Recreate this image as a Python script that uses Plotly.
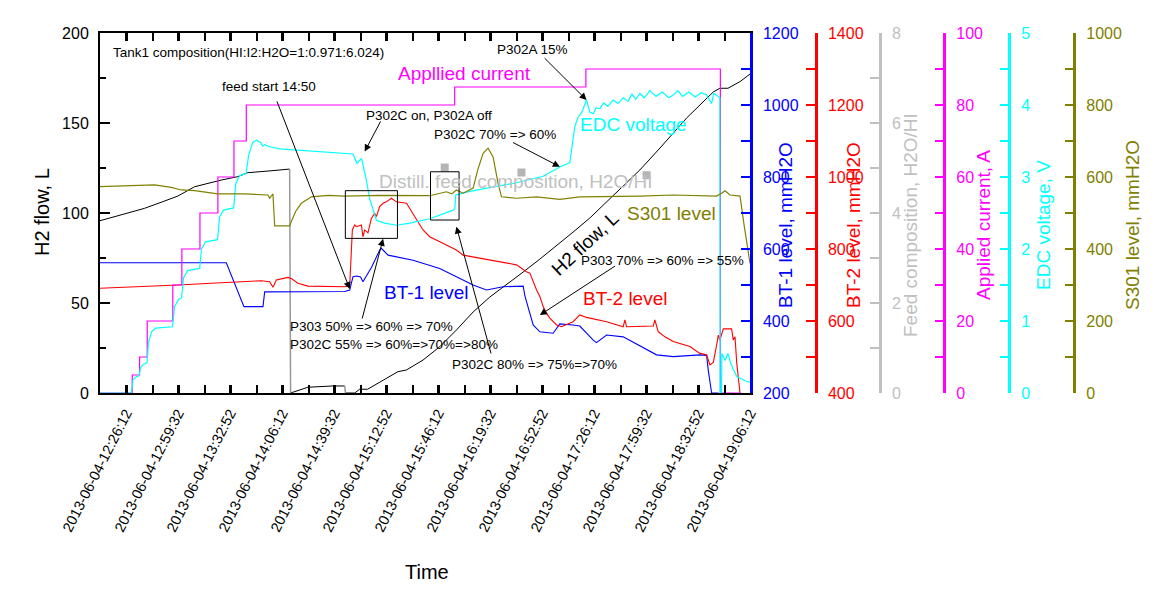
import pandas as pd
import plotly.graph_objects as go

BASE = pd.Timestamp("2013-06-04 12:00:00")

# ---------------- data (time = minutes after 12:00) ----------------
t_current = [9.5, 30.2, 34.9, 39.8, 56.2, 62.0, 73.6, 85.1, 95.4, 103.3, 236.9, 321.0, 407.2, 420.4]
current_A = [0, 5, 10, 20, 30, 40, 50, 60, 70, 80, 85, 90, 0, 0]

t_edc = [9.5, 29.7, 30.7, 32.3, 34.6, 35.5, 37.4, 39.7, 40.6, 42.6, 45.1, 56.0, 57.3, 59.9, 61.8, 63.1,
         65.7, 73.4, 74.6, 77.2, 84.9, 86.2, 88.8, 95.2, 96.5, 99.0, 103.2, 104.8, 107.4, 109.9, 112.5,
         113.8, 115.1, 118.3, 124.7, 137.5, 150.3, 166.4, 171.7, 174.3, 177.1, 179.9, 182.4, 186.7, 192.0,
         199.5, 208.1, 220.9, 235.9, 237.0, 237.6, 246.6, 259.4, 276.5, 293.6, 304.3, 310.7, 313.9, 316.0,
         318.4, 321.4, 323.5, 325.7, 327.5, 330.0, 332.5, 335.0, 338.5, 341.5, 345.0, 348.0, 350.5, 353.0,
         355.6, 358.5, 362.0, 366.0, 370.0, 374.0, 377.0, 380.0, 383.0, 387.0, 391.0, 395.0, 398.4, 401.5,
         403.0, 405.7, 406.9, 407.1, 407.9, 408.2, 410.2, 412.1, 414.0, 417.7, 424.1, 426.2]
edc_V = [0, 0, 0.18, 0.22, 0.24, 0.35, 0.40, 0.42, 0.70, 0.85, 0.90, 0.92, 1.20, 1.30, 1.32, 1.60,
         1.70, 1.73, 2.00, 2.10, 2.13, 2.45, 2.54, 2.57, 2.90, 3.02, 3.05, 3.30, 3.48, 3.51, 3.48,
         3.43, 3.45, 3.42, 3.39, 3.37, 3.35, 3.33, 3.32, 3.19, 3.26, 3.00, 2.70, 2.40, 2.36,
         2.33, 2.36, 2.42, 2.54, 2.56, 2.75, 2.80, 2.85, 2.92, 3.01, 3.14, 3.20, 3.70, 3.83,
         3.90, 4.07, 3.90, 3.88, 3.96, 3.95, 4.03, 3.98, 4.07, 4.02, 4.10, 4.05, 4.15, 4.08,
         4.16, 4.10, 4.20, 4.12, 4.18, 4.10, 4.14, 4.20, 4.12, 4.18, 4.11, 4.17, 4.14, 4.02,
         4.16, 4.12, 4.10, 0, 0, 0.55, 0.45, 0.55, 0.40, 0.23, 0.16, 0.15]

t_h2 = [9.5, 38.1, 49.8, 59.4, 70.2, 78.7, 87.3, 97.9, 104.3, 117.2, 131.1, 131.7, 142.8, 158.7, 166.4,
        166.9, 172.8, 176.0, 181.1, 200.4, 206.0, 216.6, 227.3, 238.0, 248.7, 259.4, 270.1, 280.8, 291.5,
        302.2, 312.8, 323.5, 334.3, 344.7, 355.6, 368.5, 385.6, 402.6, 406.9, 412.1, 419.8, 426.2]
h2_L = [95.7, 102.6, 106.3, 109.4, 114.6, 116.5, 118.3, 120.2, 122.4, 123.3, 124.4, 0, 3.2, 3.9, 3.9,
        0, 0, 2.1, 2.1, 11.8, 12.8, 18.3, 25.7, 35.0, 45.0, 53.3, 60.0, 67.2, 74.4,
        81.7, 89.4, 97.2, 106.1, 115.0, 123.9, 136.1, 152.8, 167.2, 169.3, 169.3, 173.0, 177.2]

t_s301 = [9.5, 28.5, 44.5, 55.2, 61.6, 70.2, 85.1, 102.2, 117.2, 118.3, 120.4, 121.5, 131.1, 133.0, 135.0,
          138.6, 145.0, 155.7, 166.4, 188.8, 220.9, 231.6, 235.0, 238.0, 242.3, 248.7, 251.7, 255.1, 258.3,
          261.5, 264.7, 266.9, 276.5, 289.4, 304.3, 317.1, 334.3, 355.6, 377.0, 394.1, 404.8, 408.0, 410.2,
          413.4, 419.8, 422.3, 426.2]
s301_mm = [573, 576, 578, 571, 564, 562, 553, 553, 550, 541, 553, 464, 464, 485, 505,
           527, 545, 549, 547, 549, 548, 559, 553, 564, 555, 569, 620, 666, 680,
           656, 583, 545, 541, 545, 538, 545, 545, 547, 550, 548, 547, 555, 562,
           550, 547, 470, 360]

t_bt1 = [9.5, 41.3, 72.3, 90.5, 101.8, 114.0, 115.1, 137.5, 166.4, 169.6, 171.7, 174.1, 176.6, 178.1,
         183.7, 188.8, 189.9, 194.2, 210.2, 227.3, 238.0, 248.7, 257.3, 267.9, 280.8, 281.9, 287.2, 291.5,
         300.0, 304.3, 312.8, 317.1, 325.7, 327.8, 334.3, 344.9, 366.3, 377.0, 394.1, 398.4, 399.4, 401.6, 405.9]
bt1_mm = [562, 562, 561, 562, 440, 440, 481, 481, 482, 486, 523, 525, 522, 509,
          550, 597, 602, 583, 569, 546, 523, 500, 486, 495, 497, 470, 389, 370,
          366, 392, 389, 386, 347, 340, 361, 356, 306, 301, 306, 304, 265, 200, 200]

t_bt2 = [9.5, 38.1, 59.4, 80.9, 95.8, 112.9, 118.3, 120.4, 122.6, 130.0, 132.2, 136.4, 142.8, 166.4, 169.6,
         171.3, 172.8, 173.9, 177.1, 178.1, 179.2, 181.3, 183.5, 185.6, 186.7, 188.8, 191.0, 193.1, 196.3,
         199.5, 206.0, 210.2, 216.6, 220.9, 229.4, 238.0, 242.3, 253.0, 263.7, 276.5, 282.9, 285.1, 289.4,
         291.5, 293.6, 295.8, 297.9, 302.2, 305.4, 312.8, 317.1, 321.4, 334.3, 344.9, 346.0, 347.1, 364.2,
         365.2, 367.4, 371.7, 377.0, 387.7, 394.1, 398.4, 400.5, 402.7, 404.8, 405.9, 406.9, 409.1, 414.4,
         415.5, 416.6, 417.7, 419.8]
bt2_mm = [691, 695, 700, 705, 709, 712, 709, 694, 714, 721, 718, 705, 697, 695, 698,
          853, 867, 862, 867, 834, 853, 845, 885, 899, 890, 918, 927, 931, 941,
          931, 927, 899, 853, 834, 816, 797, 783, 774, 765, 756, 737, 733, 686,
          668, 640, 621, 608, 589, 584, 598, 617, 610, 598, 584, 603, 584, 586,
          603, 570, 556, 543, 529, 510, 506, 478, 485, 533, 561, 547, 578, 578,
          547, 556, 483, 400]

t_feed = [230.5, 279.7, 359.9]
feed_ratio = [5.01, 4.90, 4.84]

# highlight boxes (time range, H2-axis range)
box_t0 = [166.8, 221.4]
box_t1 = [200.2, 239.7]
box_v0 = [85.9, 96.1]
box_v1 = [112.4, 122.9]

# small black notes: text, time, H2-axis value, anchor
note_text = ["Tank1 composition(HI:I2:H2O=1:0.971:6.024)", "feed start 14:50", "P302C on, P302A off",
             "P302C 70% => 60%", "P302A 15%", "P303 70% => 60% => 55%",
             "P303 50% => 60% => 70%<br>P302C 55% => 60%=>70%=>80%", "P302C 80% => 75%=>70%"]
note_t = [16.9, 117.6, 220.3, 262.6, 287.0, 370.1, 130.0, 287.8]
note_v = [189.4, 170.2, 154.4, 143.7, 190.6, 73.5, 31.7, 15.6]
note_anchor = ["left", "center", "center", "center", "center", "center", "left", "center"]

# arrows: head time, head value (H2 axis), tail offset in px
arrow_t = [169.6, 179.2, 304.3, 321.4, 291.5, 191.0, 238.0]
arrow_v = [57.8, 134.1, 125.7, 162.8, 43.3, 85.7, 92.4]
arrow_dx = [-73.3, 16.7, -48.3, -43.4, 76.7, -21.3, 35.0]
arrow_dy = [-189.0, -31.7, -25.0, -43.3, -50.0, 81.3, 128.3]

# coloured series labels
label_text = ["Appllied current", "EDC voltage", "Distill. feed composition, H2O/HI", "S301 level",
              "BT-2 level", "BT-1 level", "H2 flow, L"]
label_t = [242.9, 351.3, 275.9, 375.9, 346.0, 218.8, 320.4]
label_v = [177.6, 149.4, 117.4, 99.8, 52.6, 55.7, 83.2]
label_color = ["#ff00ff", "#00ffff", "#c0c0c0", "#808000", "#ff0000", "#0000ff", "#000000"]
label_angle = [0, 0, 0, 0, 0, 0, -43]

# ---------------- helpers ----------------
def ts(mins):
    return [BASE + pd.Timedelta(minutes=m) for m in mins]

def tstr(m):
    return str(BASE + pd.Timedelta(minutes=m))

FONT = "Liberation Sans, Arial, sans-serif"

fig = go.Figure()

# H2 flow: black, with gray vertical reset segments
blk_x, blk_y, gry_x, gry_y = [], [], [], []
tt = ts(t_h2)
for i in range(len(h2_L)):
    if i > 0 and h2_L[i - 1] - h2_L[i] > 2:
        blk_x.append(None); blk_y.append(None)
        gry_x += [tt[i - 1], tt[i], None]; gry_y += [h2_L[i - 1], h2_L[i], None]
    blk_x.append(tt[i]); blk_y.append(h2_L[i])

fig.add_trace(go.Scatter(x=ts(t_s301), y=s301_mm, yaxis="y7", mode="lines",
                         line=dict(color="#808000", width=1.2)))
fig.add_trace(go.Scatter(x=ts(t_current), y=current_A, yaxis="y5", mode="lines",
                         line=dict(color="#ff00ff", width=1.2, shape="hv")))
fig.add_trace(go.Scatter(x=ts(t_edc), y=edc_V, yaxis="y6", mode="lines",
                         line=dict(color="#00ffff", width=1.2)))
fig.add_trace(go.Scatter(x=ts(t_bt1), y=bt1_mm, yaxis="y2", mode="lines",
                         line=dict(color="#0000ff", width=1.1)))
fig.add_trace(go.Scatter(x=ts(t_bt2), y=bt2_mm, yaxis="y3", mode="lines",
                         line=dict(color="#ff0000", width=1.1)))
fig.add_trace(go.Scatter(x=blk_x, y=blk_y, yaxis="y", mode="lines",
                         line=dict(color="#000000", width=1)))
fig.add_trace(go.Scatter(x=gry_x, y=gry_y, yaxis="y", mode="lines",
                         line=dict(color="#999999", width=1.5)))
fig.add_trace(go.Scatter(x=ts(t_feed), y=feed_ratio, yaxis="y4", mode="markers",
                         marker=dict(symbol="square", size=8, color="#b4b4b4")))

# ---------------- layout ----------------
# the page body adds an 8 px offset; work in screen pixels and compensate
OFF = 8
W, H = 1158, 590
L, T = 100 - OFF, 33 - OFF
PH = 360
B = H - T - PH
PW = W - L
px = lambda x: (x - OFF - L) / PW    # screen pixel x -> paper
py = lambda y: (393 - y) / PH        # screen pixel y -> paper

xdom_end = px(750)

def right_axis(color, rng, dtick, mdtick, pos=None):
    d = dict(overlaying="y", side="right", range=rng, dtick=dtick, tick0=rng[0],
             ticks="inside", ticklen=9, tickwidth=1.5, tickcolor=color,
             minor=dict(dtick=mdtick, ticks="inside", ticklen=9, tickwidth=1.5, tickcolor=color),
             showline=True, linecolor=color, linewidth=2.5, showgrid=False, zeroline=False,
             automargin=False,
             tickfont=dict(family=FONT, size=16, color=color), ticklabelstandoff=7)
    if pos is None:
        d["anchor"] = "x"
    else:
        d["anchor"] = "free"
        d["position"] = pos
    return d

fig.update_layout(
    template="none",
    width=W, height=H, margin=dict(l=L, r=0, t=T, b=B, autoexpand=False),
    paper_bgcolor="white", plot_bgcolor="white", showlegend=False,
    font=dict(family=FONT, size=16, color="black"),
    xaxis=dict(domain=[0, xdom_end], type="date", automargin=False,
               range=[tstr(9.5333), tstr(426.2)],
               tick0=tstr(26.2), dtick=2000000, tickformat="%Y-%m-%d-%H:%M:%S",
               tickangle=-63, tickfont=dict(family=FONT, size=14.5),
               ticks="inside", ticklen=8, tickwidth=1.5, tickcolor="black",
               minor=dict(dtick=1000000, ticks="inside", ticklen=4, tickwidth=1.5, tickcolor="black"),
               showline=True, linecolor="black", linewidth=2, mirror="allticks",
               showgrid=False, zeroline=False, ticklabelstandoff=4),
    yaxis=dict(range=[0, 200], dtick=50, ticks="inside", ticklen=10, tickwidth=1.5, tickcolor="black",
               minor=dict(dtick=25, ticks="inside", ticklen=6, tickwidth=1.5, tickcolor="black"),
               showline=True, linecolor="black", linewidth=2, showgrid=False, zeroline=False,
               automargin=False, tickfont=dict(family=FONT, size=16), ticklabelstandoff=6),
    yaxis2=right_axis("#0000ff", [200, 1200], 200, 100),
    yaxis3=right_axis("#ff0000", [400, 1400], 200, 100, px(816)),
    yaxis4=right_axis("#c0c0c0", [0, 8], 2, 1, px(880)),
    yaxis5=right_axis("#ff00ff", [0, 100], 20, 10, px(944.3)),
    yaxis6=right_axis("#00ffff", [0, 5], 1, 0.5, px(1009.3)),
    yaxis7=right_axis("#808000", [0, 1000], 200, 100, px(1074.3)),
)

ann = []
# axis titles
axis_titles = ["BT-1 level, mmH2O", "BT-2 level, mmH2O", "Feed composition, H2O/HI",
               "Applied current, A", "EDC voltage, V", "S301 level, mmH2O"]
axis_title_px = [785, 853, 910, 983, 1043, 1132]
axis_colors = ["#0000ff", "#ff0000", "#c0c0c0", "#ff00ff", "#00ffff", "#808000"]
for txt, xp, c in zip(axis_titles, axis_title_px, axis_colors):
    ann.append(dict(text=txt, xref="paper", yref="paper", x=px(xp), y=py(225), textangle=-90,
                    showarrow=False, font=dict(family=FONT, size=19, color=c),
                    xanchor="center", yanchor="middle"))
ann.append(dict(text="H2 flow, L", xref="paper", yref="paper", x=px(42), y=py(212), textangle=-90,
                showarrow=False, font=dict(family=FONT, size=20), xanchor="center", yanchor="middle"))
ann.append(dict(text="Time", xref="paper", yref="paper", x=px(427), y=py(572), showarrow=False,
                font=dict(family=FONT, size=20), xanchor="center", yanchor="middle"))

for txt, t, v, a in zip(note_text, note_t, note_v, note_anchor):
    ann.append(dict(text=txt, x=tstr(t), y=v, xref="x", yref="y", showarrow=False, xanchor=a,
                    yanchor="middle", align="left", font=dict(family=FONT, size=13.5)))
for t, v, dx, dy in zip(arrow_t, arrow_v, arrow_dx, arrow_dy):
    ann.append(dict(text="", x=tstr(t), y=v, xref="x", yref="y", showarrow=True, ax=dx, ay=dy,
                    arrowhead=2, arrowsize=1.4, arrowwidth=1, arrowcolor="black", standoff=0))
for txt, t, v, c, ang in zip(label_text, label_t, label_v, label_color, label_angle):
    ann.append(dict(text=txt, x=tstr(t), y=v, xref="x", yref="y", showarrow=False, textangle=ang,
                    font=dict(family=FONT, size=19, color=c), xanchor="center", yanchor="middle"))
fig.update_layout(annotations=ann)

shapes = []
for a0, a1, b0, b1 in zip(box_t0, box_t1, box_v0, box_v1):
    shapes.append(dict(type="rect", xref="x", yref="y", x0=tstr(a0), x1=tstr(a1), y0=b0, y1=b1,
                       line=dict(color="black", width=1)))
fig.update_layout(shapes=shapes)

fig.write_html("out.html")
